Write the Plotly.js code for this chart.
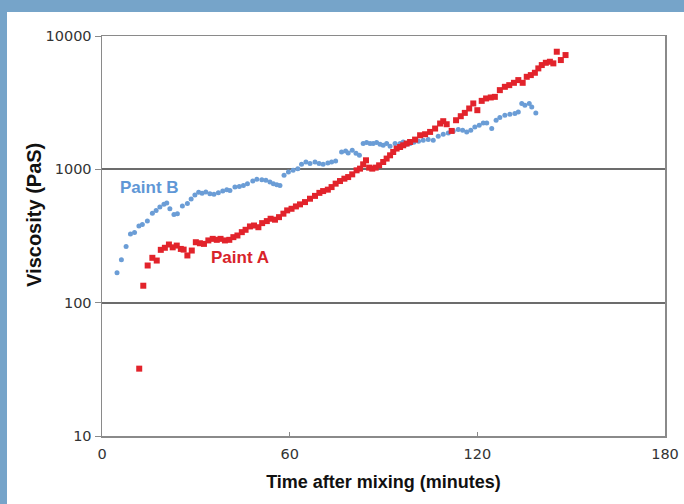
<!DOCTYPE html>
<html>
<head>
<meta charset="utf-8">
<script src="https://cdn.plot.ly/plotly-3.0.1.min.js"></script>
<style>
html,body{margin:0;padding:0;background:#76a4c9;width:684px;height:504px;overflow:hidden;}
#panel{position:absolute;left:7px;top:12px;width:677px;height:492px;background:#ffffff;}
#chart{position:absolute;left:0;top:0;width:684px;height:504px;}
</style>
</head>
<body>
<div id="panel"></div>
<div id="chart"></div>
<script>
// Paint A (red squares)
const paintA_time = [11.9,13.2,14.6,16.1,17.5,18.8,20.1,21.4,22.6,23.9,
  25.2,26.1,27.3,28.7,30.0,31.3,32.6,34.0,35.4,36.7,
  37.9,39.3,40.7,42.0,43.3,44.7,45.9,47.3,48.6,50.0,
  51.2,52.7,53.9,55.3,56.6,58.0,59.2,60.6,62.0,63.3,
  64.9,66.5,68.1,69.5,70.7,72.2,73.4,74.7,76.1,77.5,
  78.7,80.0,81.4,82.5,83.5,84.4,85.4,86.4,87.5,88.6,
  89.9,91.0,92.1,93.1,94.2,95.3,96.3,97.4,98.5,100.1,
  101.7,103.3,104.9,106.5,108.1,109.1,110.2,111.8,113.2,114.7,
  116.0,117.4,118.7,120.0,121.4,122.8,124.3,125.6,127.2,128.8,
  130.2,131.7,133.1,134.5,135.8,137.1,138.4,139.5,140.6,141.9,
  143.2,144.3,145.4,146.7,148.2];
const paintA_visc = [32,134,190,217,207,249,258,273,260,268,
  253,250,226,246,284,279,276,293,301,296,
  301,293,296,310,319,338,352,373,379,368,
  395,409,426,419,438,465,492,506,527,546,
  568,602,632,666,687,704,736,781,817,851,
  875,917,983,1012,1090,1169,1030,1012,1030,1072,
  1135,1204,1274,1349,1431,1471,1515,1561,1604,1671,
  1801,1833,1908,2023,2206,2296,2179,1941,2335,2503,
  2651,2860,3119,2777,3262,3401,3460,3496,3927,4158,
  4280,4456,4670,4456,4943,5090,5300,5716,6053,6298,
  6410,6233,7621,6600,7195];

// Paint B (blue dots)
const paintB_time = [4.8,6.2,7.7,9.1,10.4,11.8,12.9,14.5,16.1,17.3,
  18.5,19.8,20.7,21.7,23.0,24.1,25.7,27.3,28.5,29.7,
  30.9,32.0,33.2,34.5,35.8,37.2,38.6,39.9,40.9,42.5,
  43.9,45.2,46.5,48.2,49.5,51.1,52.4,53.7,54.8,55.9,
  56.9,58.2,59.6,61.1,62.6,63.8,65.2,66.5,68.1,69.4,
  70.7,72.2,73.4,74.7,76.6,77.9,78.7,80.0,81.2,82.3,
  83.5,84.6,85.7,86.7,87.8,88.9,89.9,91.0,92.1,93.7,
  95.3,96.3,97.4,98.5,99.7,101.2,102.7,104.3,105.9,107.5,
  109.1,110.7,112.3,113.9,115.3,116.6,117.9,119.2,120.6,121.9,
  123.0,124.6,126.0,127.2,128.8,130.4,132.0,133.1,134.2,135.2,
  136.6,137.4,138.7];
const paintB_visc = [168,210,264,327,336,376,386,410,469,492,
  521,546,558,506,459,465,532,555,600,643,
  672,663,675,657,649,668,687,704,695,736,
  745,758,781,817,841,837,827,803,781,767,
  758,901,954,983,1012,1090,1135,1104,1135,1104,
  1090,1115,1135,1155,1349,1373,1326,1390,1319,1274,
  1561,1588,1561,1561,1588,1542,1515,1561,1489,1561,
  1561,1604,1542,1561,1596,1624,1652,1671,1652,1770,
  1833,1875,1941,1989,1965,1908,1965,2080,2142,2229,
  2229,2023,2335,2447,2547,2591,2623,2697,3119,3029,
  3119,2940,2651];

const xTicks = [0,60,120,180];
const yTicks = [10,100,1000,10000];
const yTickText = ["10","100","1000","10000"];
const xTitle = "Time after mixing (minutes)";
const yTitle = "Viscosity (PaS)";
const labelA = {text:"Paint A", t:44.1, v:218};
const labelB = {text:"Paint B", t:15.3, v:733};

const red = "#e2232b";
const blue = "#6b9dd6";

const traces = [
  {x: paintB_time, y: paintB_visc, type:"scatter", mode:"markers", name:"Paint B",
   marker:{symbol:"circle", size:5, color:blue}},
  {x: paintA_time, y: paintA_visc, type:"scatter", mode:"markers", name:"Paint A",
   marker:{symbol:"square", size:6, color:red}}
];

const layout = {
  width:684, height:504,
  paper_bgcolor:"rgba(0,0,0,0)", plot_bgcolor:"rgba(0,0,0,0)",
  margin:{l:102, r:19, t:36, b:68},
  showlegend:false,
  font:{family:"DejaVu Sans", size:14.5, color:"#222"},
  xaxis:{
    range:[0,180], tickmode:"array", tickvals:xTicks,
    showgrid:false, zeroline:false,
    showline:true, linecolor:"#8a8a8a", linewidth:1.5, mirror:true,
    ticks:"inside", ticklen:4, tickcolor:"#8a8a8a",
    ticklabelstandoff:4,
    tickfont:{family:"DejaVu Sans", size:14.5, color:"#333"},
    title:{text:xTitle, standoff:14,
           font:{family:"Liberation Sans", size:18, color:"#111", weight:"bold"}}
  },
  yaxis:{
    type:"log", range:[1,4], tickmode:"array", tickvals:yTicks, ticktext:yTickText,
    showgrid:true, gridcolor:"#6c6c6c", gridwidth:1.7, zeroline:false,
    showline:true, linecolor:"#8a8a8a", linewidth:1.5, mirror:true,
    ticks:"outside", ticklen:6, tickcolor:"#8a8a8a",
    tickfont:{family:"DejaVu Sans", size:14.5, color:"#333"}
  },
  annotations:[
    {x:-0.121, y:0.5525, xref:"paper", yref:"paper", text:yTitle, textangle:-90,
     showarrow:false, xanchor:"center", yanchor:"middle",
     font:{family:"Liberation Sans", size:20, color:"#111", weight:"bold"}},
    {x:labelB.t, y:Math.log10(labelB.v), xref:"x", yref:"y", text:labelB.text, showarrow:false,
     font:{family:"Liberation Sans", size:17, color:"#5f97d6", weight:"bold"}},
    {x:labelA.t, y:Math.log10(labelA.v), xref:"x", yref:"y", text:labelA.text, showarrow:false,
     font:{family:"Liberation Sans", size:17, color:"#d8232a", weight:"bold"}}
  ]
};

Plotly.newPlot("chart", traces, layout, {displayModeBar:false, staticPlot:true});
</script>
</body>
</html>
